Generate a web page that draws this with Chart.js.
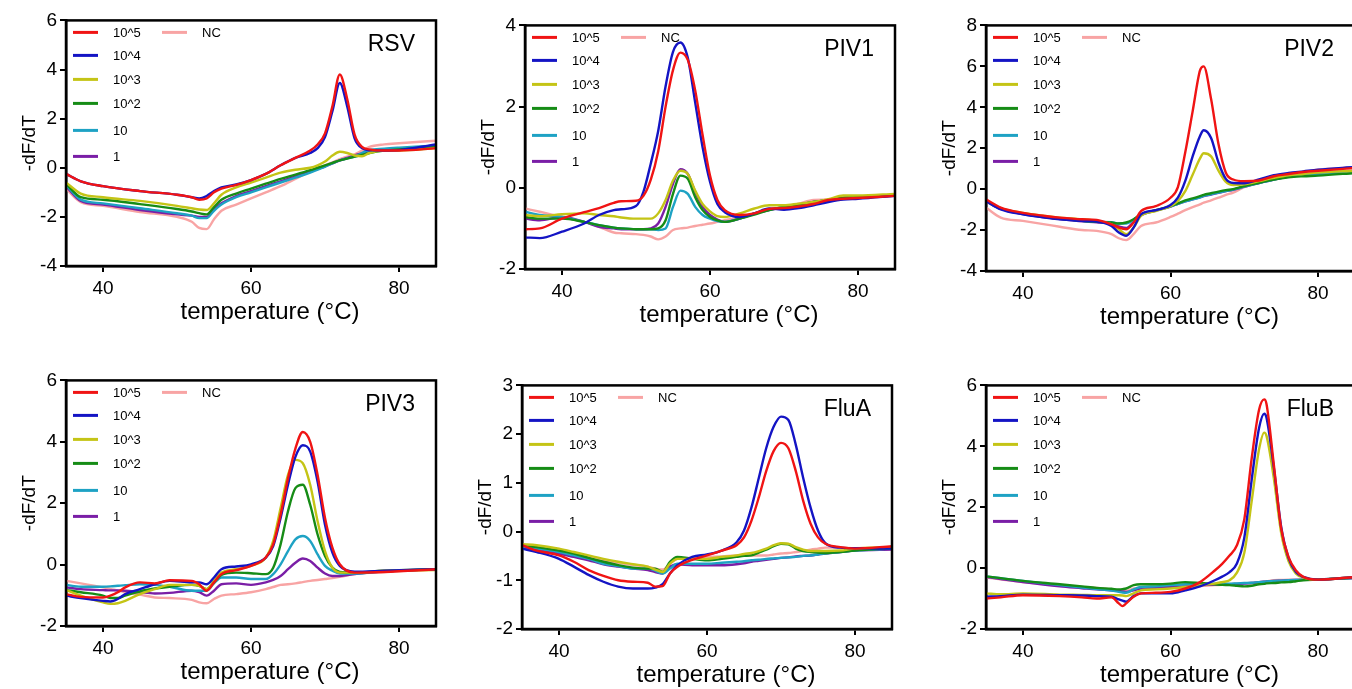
<!DOCTYPE html>
<html>
<head>
<meta charset="utf-8">
<script src="https://cdn.jsdelivr.net/npm/chart.js@4.4.1/dist/chart.umd.min.js"></script>
<style>
    html, body { margin: 0; padding: 0; background: #fff; }
    body { width: 1352px; height: 689px; overflow: hidden; position: relative; }
    canvas { position: absolute; }
</style>
</head>
<body>
<canvas id="panel-rsv" width="444" height="322" style="left:0px;top:6px"></canvas>
<canvas id="panel-piv1" width="444" height="320" style="left:459px;top:11px"></canvas>
<canvas id="panel-piv2" width="443" height="322" style="left:920px;top:11px"></canvas>
<canvas id="panel-piv3" width="444" height="322" style="left:0px;top:366px"></canvas>
<canvas id="panel-flua" width="444" height="320" style="left:456px;top:371px"></canvas>
<canvas id="panel-flub" width="443" height="320" style="left:920px;top:371px"></canvas>
<script>
// ---- data (-dF/dT vs temperature) ----
const seriesLabels = ['10^5', '10^4', '10^3', '10^2', '10', '1', 'NC'];
const panelTitles = ['RSV', 'PIV1', 'PIV2', 'PIV3', 'FluA', 'FluB'];
const tempTicks = [40, 60, 80];
const yMins = [-4, -2, -4, -2, -2, -2];
const yMaxs = [6, 4, 8, 6, 3, 6];
const ySteps = [2, 2, 2, 2, 1, 2];

// RSV
const rsvTemp = [35,37,40,45,50,52,53,54,55,56,58,60,62,64,66,68,69,70,71,72,73,74,75,76,78,80,85];
const rsv1e5 = [-0.25,-0.55,-0.75,-0.95,-1.1,-1.2,-1.3,-1.25,-1.0,-0.85,-0.7,-0.5,-0.25,0.1,0.4,0.7,0.95,1.4,2.5,3.8,2.8,1.35,0.85,0.75,0.7,0.7,0.8];
const rsv1e4 = [-0.25,-0.55,-0.75,-0.95,-1.1,-1.2,-1.25,-1.15,-0.95,-0.8,-0.68,-0.5,-0.25,0.1,0.4,0.6,0.8,1.25,2.3,3.45,2.5,1.2,0.8,0.72,0.7,0.72,0.95];
const rsv1e3 = [-0.6,-1.05,-1.2,-1.35,-1.55,-1.65,-1.7,-1.72,-1.45,-1.1,-0.8,-0.6,-0.4,-0.2,-0.08,0.0,0.1,0.25,0.5,0.65,0.6,0.5,0.47,0.6,0.7,0.7,0.8];
const rsv1e2 = [-0.65,-1.2,-1.3,-1.48,-1.68,-1.78,-1.85,-1.9,-1.6,-1.3,-1.05,-0.85,-0.65,-0.45,-0.28,-0.1,0.0,0.1,0.2,0.3,0.37,0.45,0.52,0.6,0.7,0.75,0.85];
const rsv1e1 = [-0.7,-1.3,-1.45,-1.65,-1.85,-1.95,-2.05,-2.05,-1.75,-1.5,-1.2,-1.0,-0.8,-0.6,-0.4,-0.2,-0.08,0.05,0.18,0.3,0.38,0.45,0.6,0.72,0.78,0.82,0.9];
const rsv1e0 = [-0.75,-1.35,-1.5,-1.72,-1.9,-1.95,-2.0,-2.0,-1.7,-1.45,-1.15,-0.95,-0.75,-0.55,-0.35,-0.15,-0.05,0.05,0.18,0.3,0.4,0.5,0.58,0.65,0.72,0.75,0.85];
const rsvNC = [-0.85,-1.4,-1.55,-1.8,-2.0,-2.2,-2.45,-2.5,-2.1,-1.75,-1.5,-1.25,-1.0,-0.75,-0.45,-0.15,0.0,0.1,0.22,0.35,0.45,0.55,0.7,0.85,0.95,1.0,1.1];

// PIV1
const piv1Temp = [35,37,40,43,45,47,48,50,51,52,53,54,55,56,57,58,59,60,61,62,64,66,68,70,72,74,76,78,80,85];
const piv11e5 = [-1.02,-1.0,-0.76,-0.6,-0.5,-0.37,-0.33,-0.32,-0.2,0.2,0.9,2.0,2.9,3.33,3.15,2.4,1.3,0.3,-0.3,-0.55,-0.67,-0.63,-0.52,-0.5,-0.46,-0.4,-0.3,-0.27,-0.25,-0.2];
const piv11e4 = [-1.22,-1.24,-1.08,-0.88,-0.67,-0.55,-0.53,-0.45,-0.1,0.6,1.4,2.5,3.35,3.58,3.2,2.1,1.0,0.15,-0.4,-0.6,-0.72,-0.63,-0.51,-0.54,-0.5,-0.43,-0.35,-0.29,-0.27,-0.2];
const piv11e3 = [-0.67,-0.7,-0.65,-0.63,-0.67,-0.7,-0.73,-0.76,-0.76,-0.76,-0.63,-0.3,0.18,0.42,0.34,-0.07,-0.4,-0.58,-0.7,-0.72,-0.63,-0.51,-0.43,-0.43,-0.39,-0.35,-0.28,-0.19,-0.19,-0.15];
const piv11e2 = [-0.72,-0.76,-0.76,-0.84,-0.92,-0.98,-1.0,-1.02,-1.02,-1.02,-1.0,-0.8,-0.15,0.3,0.22,-0.23,-0.55,-0.72,-0.8,-0.84,-0.76,-0.66,-0.55,-0.47,-0.41,-0.35,-0.3,-0.25,-0.23,-0.19];
const piv11e1 = [-0.59,-0.67,-0.72,-0.84,-0.92,-0.98,-1.0,-1.02,-1.02,-1.02,-1.04,-1.0,-0.47,-0.07,-0.15,-0.47,-0.67,-0.76,-0.82,-0.84,-0.76,-0.63,-0.54,-0.47,-0.42,-0.35,-0.3,-0.25,-0.23,-0.19];
const piv11e0 = [-0.76,-0.8,-0.72,-0.84,-0.96,-1.0,-1.02,-1.02,-1.02,-1.0,-0.88,-0.47,0.1,0.46,0.34,-0.1,-0.47,-0.67,-0.78,-0.84,-0.76,-0.64,-0.55,-0.47,-0.41,-0.35,-0.3,-0.25,-0.23,-0.19];
const piv1NC = [-0.51,-0.59,-0.72,-0.84,-0.96,-1.1,-1.12,-1.14,-1.16,-1.2,-1.27,-1.2,-1.04,-1.0,-0.98,-0.94,-0.91,-0.88,-0.84,-0.8,-0.72,-0.63,-0.54,-0.47,-0.39,-0.3,-0.29,-0.25,-0.23,-0.19];

// PIV2
const piv2Temp = [35,37,40,43,45,48,50,52,53,54,55,56,58,60,61,62,63,64,64.5,65.5,66.5,67.5,68.5,70,72,74,76,78,80,85];
const piv21e5 = [-0.5,-0.9,-1.16,-1.31,-1.39,-1.47,-1.5,-1.72,-1.88,-1.96,-1.63,-1.07,-0.83,-0.42,0.1,1.8,3.8,5.8,6.0,4.4,2.2,0.8,0.47,0.39,0.42,0.63,0.74,0.84,0.9,1.03];
const piv21e4 = [-0.58,-0.99,-1.23,-1.39,-1.47,-1.55,-1.58,-1.8,-2.12,-2.28,-1.88,-1.23,-1.03,-0.78,-0.42,0.4,1.6,2.6,2.88,2.5,1.3,0.5,0.3,0.29,0.47,0.68,0.79,0.87,0.95,1.08];
const piv21e3 = [-0.58,-0.94,-1.16,-1.31,-1.39,-1.47,-1.55,-1.72,-1.96,-2.2,-1.88,-1.31,-1.07,-0.83,-0.58,-0.1,0.7,1.5,1.75,1.6,0.9,0.35,0.2,0.23,0.39,0.55,0.68,0.74,0.81,0.9];
const piv21e2 = [-0.58,-0.94,-1.2,-1.36,-1.44,-1.55,-1.6,-1.63,-1.68,-1.63,-1.47,-1.23,-1.03,-0.83,-0.7,-0.55,-0.45,-0.34,-0.28,-0.2,-0.12,-0.05,0.0,0.15,0.31,0.47,0.58,0.63,0.66,0.79];
const piv21e1 = [-0.58,-0.94,-1.2,-1.36,-1.44,-1.55,-1.6,-1.62,-1.68,-1.68,-1.5,-1.25,-1.05,-0.85,-0.72,-0.6,-0.5,-0.4,-0.33,-0.25,-0.17,-0.1,-0.02,0.12,0.3,0.47,0.62,0.68,0.72,0.85];
const piv21e0 = [-0.6,-0.97,-1.22,-1.38,-1.46,-1.57,-1.62,-1.7,-1.82,-1.9,-1.6,-1.27,-1.05,-0.85,-0.72,-0.6,-0.5,-0.4,-0.34,-0.26,-0.18,-0.1,-0.03,0.12,0.3,0.47,0.62,0.7,0.75,0.88];
const piv2NC = [-0.9,-1.39,-1.55,-1.72,-1.84,-2.0,-2.04,-2.2,-2.4,-2.49,-2.2,-1.8,-1.63,-1.36,-1.2,-1.03,-0.88,-0.74,-0.66,-0.55,-0.42,-0.28,-0.17,0.1,0.31,0.55,0.71,0.84,0.95,1.07];

// PIV3
const piv3Temp = [35,37,40,41,42,43,45,47,49,52,53,54,55,56,58,60,62,63,64,65,66,67,68,69,70,71,72,74,78,85];
const piv31e5 = [-0.96,-1.05,-1.07,-1.01,-0.9,-0.74,-0.58,-0.61,-0.51,-0.53,-0.64,-0.85,-0.58,-0.31,-0.18,-0.04,0.23,0.66,1.63,2.81,3.78,4.32,4.0,2.92,1.52,0.55,0.01,-0.26,-0.24,-0.15];
const piv31e4 = [-1.01,-1.09,-1.18,-1.2,-1.12,-0.96,-0.8,-0.64,-0.53,-0.58,-0.58,-0.64,-0.42,-0.15,-0.06,0.01,0.23,0.6,1.52,2.6,3.51,3.89,3.68,2.7,1.3,0.39,-0.04,-0.23,-0.2,-0.15];
const piv31e3 = [-0.83,-1.01,-1.23,-1.28,-1.26,-1.18,-0.96,-0.8,-0.66,-0.66,-0.69,-0.8,-0.53,-0.26,-0.15,-0.04,0.23,0.77,1.84,2.92,3.41,3.3,2.6,1.41,0.44,-0.1,-0.26,-0.26,-0.2,-0.18];
const piv31e2 = [-0.83,-0.9,-1.01,-1.09,-1.09,-1.01,-0.87,-0.78,-0.72,-0.66,-0.69,-0.8,-0.58,-0.34,-0.26,-0.28,-0.31,-0.1,0.66,1.74,2.49,2.6,1.95,0.98,0.28,-0.1,-0.24,-0.26,-0.2,-0.15];
const piv31e1 = [-0.66,-0.72,-0.72,-0.71,-0.69,-0.67,-0.64,-0.66,-0.72,-0.85,-0.85,-0.85,-0.61,-0.42,-0.42,-0.47,-0.47,-0.31,0.01,0.44,0.82,0.93,0.77,0.33,-0.04,-0.2,-0.29,-0.29,-0.22,-0.15];
const piv31e0 = [-0.74,-0.8,-0.83,-0.84,-0.84,-0.85,-0.9,-0.94,-0.92,-0.85,-0.9,-1.01,-0.85,-0.64,-0.61,-0.66,-0.58,-0.5,-0.37,-0.15,0.06,0.2,0.12,-0.1,-0.29,-0.37,-0.37,-0.31,-0.22,-0.15];
const piv3NC = [-0.53,-0.61,-0.74,-0.79,-0.85,-0.9,-0.98,-1.07,-1.09,-1.15,-1.23,-1.26,-1.12,-1.01,-0.96,-0.9,-0.8,-0.73,-0.66,-0.64,-0.61,-0.57,-0.53,-0.5,-0.47,-0.44,-0.4,-0.31,-0.24,-0.15];

// FluA
const fluaTemp = [35,37,40,42,44,46,48,50,52,53,54,55,56,58,60,62,64,65,66,67,68,69,70,71,72,73,74,75,76,78,80,85];
const flua1e5 = [-0.28,-0.39,-0.49,-0.62,-0.79,-0.91,-1.0,-1.03,-1.05,-1.13,-1.12,-0.86,-0.72,-0.58,-0.49,-0.39,-0.28,-0.12,0.22,0.7,1.24,1.65,1.82,1.71,1.24,0.63,0.16,-0.12,-0.25,-0.32,-0.35,-0.3];
const flua1e4 = [-0.35,-0.42,-0.56,-0.72,-0.89,-1.03,-1.13,-1.17,-1.17,-1.15,-1.08,-0.86,-0.69,-0.52,-0.47,-0.39,-0.22,0.02,0.49,1.1,1.71,2.15,2.36,2.29,1.78,1.1,0.49,0.02,-0.24,-0.33,-0.34,-0.35];
const flua1e3 = [-0.26,-0.28,-0.35,-0.42,-0.49,-0.56,-0.62,-0.67,-0.72,-0.78,-0.83,-0.66,-0.56,-0.56,-0.56,-0.52,-0.49,-0.46,-0.44,-0.4,-0.35,-0.28,-0.24,-0.25,-0.32,-0.37,-0.4,-0.4,-0.4,-0.39,-0.35,-0.32];
const flua1e2 = [-0.28,-0.32,-0.39,-0.45,-0.54,-0.62,-0.69,-0.74,-0.76,-0.76,-0.83,-0.62,-0.52,-0.56,-0.59,-0.56,-0.52,-0.5,-0.49,-0.43,-0.37,-0.3,-0.25,-0.26,-0.35,-0.4,-0.42,-0.43,-0.44,-0.42,-0.39,-0.34];
const flua1e1 = [-0.32,-0.35,-0.42,-0.49,-0.56,-0.66,-0.71,-0.76,-0.76,-0.8,-0.86,-0.76,-0.66,-0.66,-0.66,-0.64,-0.62,-0.61,-0.59,-0.58,-0.56,-0.55,-0.54,-0.53,-0.52,-0.5,-0.49,-0.47,-0.45,-0.42,-0.39,-0.35];
const flua1e0 = [-0.33,-0.37,-0.45,-0.52,-0.59,-0.67,-0.72,-0.76,-0.79,-0.83,-0.86,-0.72,-0.67,-0.69,-0.69,-0.69,-0.67,-0.65,-0.62,-0.6,-0.58,-0.56,-0.54,-0.53,-0.51,-0.5,-0.49,-0.47,-0.45,-0.42,-0.39,-0.37];
const fluaNC = [-0.28,-0.33,-0.39,-0.45,-0.52,-0.59,-0.64,-0.69,-0.72,-0.76,-0.78,-0.66,-0.56,-0.54,-0.52,-0.51,-0.49,-0.49,-0.49,-0.49,-0.49,-0.47,-0.45,-0.44,-0.42,-0.4,-0.37,-0.35,-0.33,-0.33,-0.34,-0.32];

// FluB
const flubTemp = [35,37,40,45,48,50,52,53,53.5,54,55,56,58,60,62,64,66,67,68,69,70,71,72,72.7,73,74,75,76,77,78,80,85];
const flub1e5 = [-1.0,-0.96,-0.89,-0.92,-0.96,-1.0,-0.96,-1.16,-1.25,-1.16,-0.94,-0.83,-0.81,-0.78,-0.67,-0.46,-0.08,0.14,0.41,0.75,1.6,3.6,5.2,5.54,5.4,3.4,1.3,0.36,-0.08,-0.29,-0.38,-0.29];
const flub1e4 = [-0.94,-0.92,-0.87,-0.89,-0.9,-0.92,-0.94,-1.03,-1.07,-1.1,-0.92,-0.83,-0.83,-0.83,-0.73,-0.6,-0.4,-0.28,-0.13,0.15,1.0,2.9,4.6,5.07,4.95,3.3,1.35,0.33,-0.13,-0.29,-0.38,-0.29];
const flub1e3 = [-0.83,-0.86,-0.83,-0.87,-0.88,-0.89,-0.89,-0.89,-0.9,-0.92,-0.83,-0.73,-0.7,-0.67,-0.62,-0.56,-0.51,-0.46,-0.4,-0.15,0.5,2.2,3.9,4.45,4.35,2.95,1.15,0.22,-0.18,-0.31,-0.38,-0.29];
const flub1e2 = [-0.27,-0.33,-0.42,-0.53,-0.6,-0.65,-0.68,-0.7,-0.69,-0.67,-0.56,-0.53,-0.53,-0.51,-0.46,-0.49,-0.53,-0.55,-0.56,-0.58,-0.6,-0.58,-0.53,-0.52,-0.5,-0.49,-0.47,-0.46,-0.43,-0.4,-0.38,-0.31];
const flub1e1 = [-0.27,-0.33,-0.42,-0.56,-0.64,-0.69,-0.74,-0.78,-0.8,-0.81,-0.7,-0.62,-0.6,-0.56,-0.53,-0.51,-0.51,-0.51,-0.51,-0.5,-0.49,-0.48,-0.46,-0.45,-0.44,-0.42,-0.41,-0.4,-0.39,-0.38,-0.37,-0.33];
const flub1e0 = [-0.29,-0.36,-0.46,-0.6,-0.66,-0.7,-0.73,-0.75,-0.77,-0.78,-0.73,-0.67,-0.64,-0.62,-0.6,-0.56,-0.54,-0.54,-0.53,-0.52,-0.51,-0.49,-0.46,-0.45,-0.44,-0.42,-0.41,-0.4,-0.39,-0.38,-0.37,-0.33];
const flubNC = [-0.31,-0.37,-0.46,-0.56,-0.62,-0.65,-0.7,-0.73,-0.74,-0.75,-0.67,-0.64,-0.64,-0.62,-0.6,-0.59,-0.56,-0.55,-0.53,-0.52,-0.51,-0.49,-0.46,-0.45,-0.44,-0.4,-0.39,-0.38,-0.38,-0.37,-0.37,-0.33];

// ---- styling ----
const seriesColors = ['#f01414', '#1414c4', '#c4c416', '#168c16', '#1ea2c4', '#7a1ea6', '#f8a4a4'];
const FONT = '"Liberation Sans", Arial, Helvetica, sans-serif';
const X_TITLE = 'temperature (°C)';
// vertical offset of each legend row from the top of the plot area
const legendRows = [12, 35, 59, 83, 110, 136];

Chart.defaults.font.family = FONT;
Chart.defaults.color = '#000';

const panels = [
    {canvas: 'panel-rsv', temps: rsvTemp, series: [rsv1e5, rsv1e4, rsv1e3, rsv1e2, rsv1e1, rsv1e0, rsvNC]},
    {canvas: 'panel-piv1', temps: piv1Temp, series: [piv11e5, piv11e4, piv11e3, piv11e2, piv11e1, piv11e0, piv1NC]},
    {canvas: 'panel-piv2', temps: piv2Temp, series: [piv21e5, piv21e4, piv21e3, piv21e2, piv21e1, piv21e0, piv2NC]},
    {canvas: 'panel-piv3', temps: piv3Temp, series: [piv31e5, piv31e4, piv31e3, piv31e2, piv31e1, piv31e0, piv3NC]},
    {canvas: 'panel-flua', temps: fluaTemp, series: [flua1e5, flua1e4, flua1e3, flua1e2, flua1e1, flua1e0, fluaNC]},
    {canvas: 'panel-flub', temps: flubTemp, series: [flub1e5, flub1e4, flub1e3, flub1e2, flub1e1, flub1e0, flubNC]}
];

// Frame, panel name, x title (set a bit right of centre, as in the figure)
// and the two-column legend drawn inside the plot area
const panelDecor = {
    id: 'panelDecor',
    afterDraw(chart, args, opts) {
        const ctx = chart.ctx;
        const a = chart.chartArea;
        ctx.save();
        ctx.strokeStyle = '#000';
        ctx.lineWidth = 2.5;
        ctx.strokeRect(a.left, a.top, a.right - a.left, a.bottom - a.top);

        ctx.fillStyle = '#000';
        ctx.font = '23px ' + FONT;
        ctx.textAlign = 'right';
        ctx.textBaseline = 'alphabetic';
        ctx.fillText(opts.title, a.right - 21, a.top + 31);

        ctx.font = '24px ' + FONT;
        ctx.textAlign = 'center';
        ctx.textBaseline = 'middle';
        ctx.fillText(X_TITLE, (a.left + a.right) / 2 + 19, a.bottom + 46);

        ctx.font = '13px ' + FONT;
        ctx.textAlign = 'left';
        chart.data.datasets.forEach((ds, i) => {
            const isNC = i === 6;
            const y = a.top + legendRows[isNC ? 0 : i];
            const x0 = a.left + (isNC ? 96 : 7);
            ctx.strokeStyle = ds.borderColor;
            ctx.lineWidth = 3;
            ctx.beginPath();
            ctx.moveTo(x0, y);
            ctx.lineTo(x0 + 25, y);
            ctx.stroke();
            ctx.fillText(ds.label, x0 + 40, y + 1);
        });
        ctx.restore();
    }
};

panels.forEach((panel, p) => {
    new Chart(document.getElementById(panel.canvas), {
        type: 'line',
        data: {
            datasets: panel.series.map((values, i) => ({
                label: seriesLabels[i],
                data: values.map((v, k) => ({x: panel.temps[k], y: v})),
                borderColor: seriesColors[i],
                borderWidth: 2.4,
                pointRadius: 0,
                tension: 0.4,
                cubicInterpolationMode: 'monotone'
            }))
        },
        options: {
            responsive: false,
            devicePixelRatio: 1,
            animation: false,
            layout: {padding: {top: 12, right: 8, left: 0, bottom: 0}},
            plugins: {
                legend: {display: false},
                tooltip: {enabled: false},
                panelDecor: {title: panelTitles[p]}
            },
            scales: {
                x: {
                    type: 'linear',
                    min: 35,
                    max: 85,
                    afterBuildTicks: scale => {
                        scale.ticks = tempTicks.map(v => ({value: v}));
                    },
                    afterFit: scale => { scale.height = 62; },
                    grid: {drawOnChartArea: false, drawTicks: true, tickLength: 6, color: '#000', lineWidth: 2},
                    border: {display: true, color: '#000', width: 2.5},
                    ticks: {font: {size: 19}, padding: 5, color: '#000', maxRotation: 0}
                },
                y: {
                    min: yMins[p],
                    max: yMaxs[p],
                    afterFit: scale => { scale.width = 66; },
                    grid: {drawOnChartArea: false, drawTicks: true, tickLength: 6, color: '#000', lineWidth: 2},
                    border: {display: true, color: '#000', width: 2.5},
                    ticks: {stepSize: ySteps[p], font: {size: 19}, padding: 3, color: '#000'},
                    title: {display: true, text: '-dF/dT', font: {size: 19}, padding: {top: 18, bottom: 0}, color: '#000'}
                }
            }
        },
        plugins: [panelDecor]
    });
});
</script>
</body>
</html>
